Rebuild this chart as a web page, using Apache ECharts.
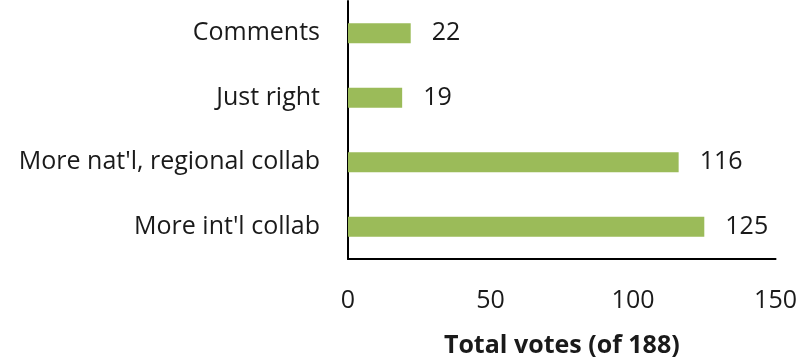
<!DOCTYPE html>
<html><head><meta charset="utf-8">
<script src="https://cdn.jsdelivr.net/npm/echarts@6/dist/echarts.min.js"></script>
<style>html,body{margin:0;padding:0;background:#fff}#c{width:800px;height:363px}</style>
</head><body><div id="c"></div>
<script>
const categories = ["More int'l collab", "More nat'l, regional collab", "Just right", "Comments"];
const votes = [125, 116, 19, 22];
const xTicks = [0, 50, 100, 150];
const xTitle = "Total votes (of 188)";

const FONT = "'Open Sans', 'Noto Sans', sans-serif";
const chart = echarts.init(document.getElementById('c'), null, {renderer: 'canvas'});
chart.setOption({
  animation: false,
  grid: {left: 348, right: 24, top: 1, bottom: 103, containLabel: false},
  xAxis: {
    type: 'value', min: xTicks[0], max: xTicks[xTicks.length - 1], interval: 50,
    axisLine: {show: true, lineStyle: {color: '#000', width: 2}},
    axisTick: {show: false},
    splitLine: {show: false},
    axisLabel: {color: '#1a1a1a', fontSize: 25, fontFamily: FONT, margin: 29},
    name: xTitle, nameLocation: 'middle', nameGap: 74,
    nameTextStyle: {color: '#1a1a1a', fontSize: 25, fontWeight: 'bold', fontFamily: FONT}
  },
  yAxis: {
    type: 'category', data: categories,
    axisLine: {show: true, lineStyle: {color: '#000', width: 2}},
    axisTick: {show: false},
    axisLabel: {color: '#1a1a1a', fontSize: 25, fontFamily: FONT, margin: 28}
  },
  series: [{
    type: 'bar', data: votes, barWidth: 20,
    itemStyle: {color: '#9BBB59'},
    label: {show: true, position: 'right', distance: 21, color: '#1a1a1a', fontSize: 25, fontFamily: FONT}
  }]
});
</script></body></html>
